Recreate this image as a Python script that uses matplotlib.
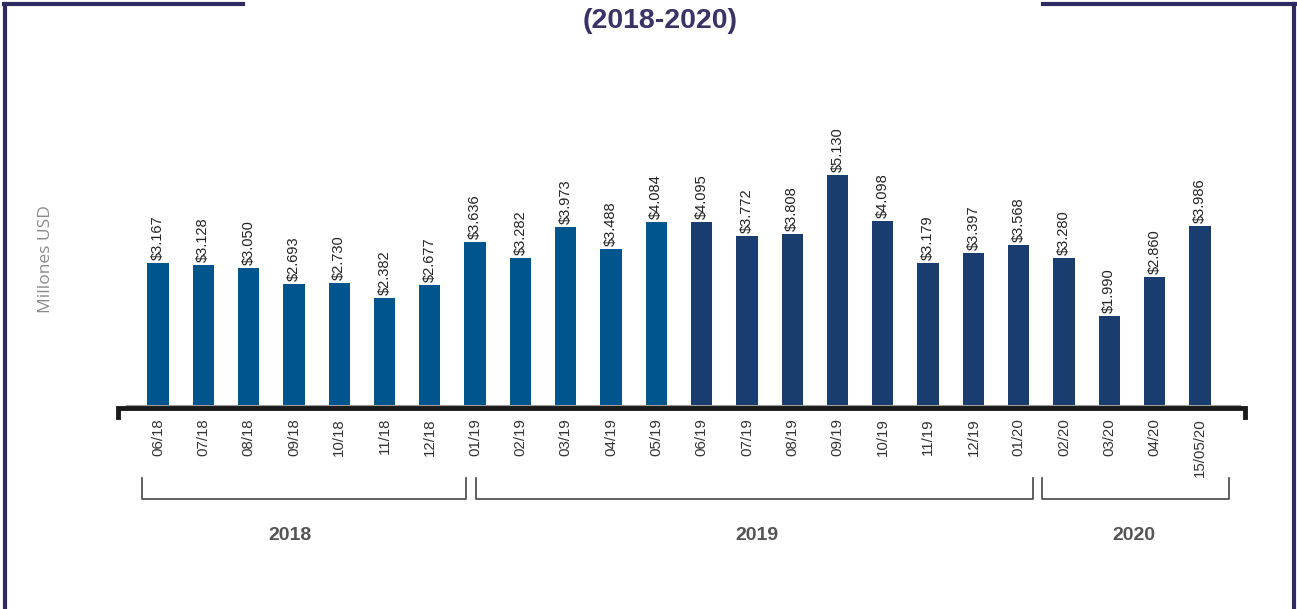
import matplotlib.pyplot as plt
from matplotlib.lines import Line2D
from matplotlib.font_manager import fontManager

# data
months = ['06/18', '07/18', '08/18', '09/18', '10/18', '11/18', '12/18',
          '01/19', '02/19', '03/19', '04/19', '05/19', '06/19', '07/19',
          '08/19', '09/19', '10/19', '11/19', '12/19', '01/20', '02/20',
          '03/20', '04/20', '15/05/20']
values = [3.167, 3.128, 3.050, 2.693, 2.730, 2.382, 2.677, 3.636, 3.282,
          3.973, 3.488, 4.084, 4.095, 3.772, 3.808, 5.130, 4.098, 3.179,
          3.397, 3.568, 3.280, 1.990, 2.860, 3.986]
n_light = 12  # first 12 bars in the lighter blue
years = ['2018', '2019', '2020']

light_blue = '#00558C'
dark_blue = '#1A3D6F'
frame_col = '#2F2A62'

names = {f.name for f in fontManager.ttflist}
narrow = 'Liberation Sans Narrow' if 'Liberation Sans Narrow' in names else 'Liberation Sans'
plt.rcParams['font.family'] = ['Liberation Sans', 'DejaVu Sans']

W, H = 1297, 609
fig = plt.figure(figsize=(W / 100, H / 100), dpi=100)

# axes placed so bar 0 sits at x=158px, baseline at y=405px
x0_px, x1_px = 118, 1245
base_px, top_px = 405, 60
step = 45.3
ppu = 44.8
ax = fig.add_axes([x0_px / W, (H - base_px) / H, (x1_px - x0_px) / W, (base_px - top_px) / H])
ax.set_xlim((x0_px - 158) / step, (x1_px - 158) / step)
ax.set_ylim(0, (base_px - top_px) / ppu)
ax.axis('off')


def px2x(p):
    return (p - 158) / step


colors = [light_blue if i < n_light else dark_blue for i in range(len(values))]
xs = list(range(len(values)))
ax.bar(xs, values, width=0.47, color=colors, zorder=2)

for x, v in zip(xs, values):
    ax.text(x, v + 3 / ppu, '$' + f'{v:.3f}', rotation=90, ha='center', va='bottom',
            fontsize=10.5, color='#222222')
    ax.text(x, -13 / ppu, months[x], rotation=90, ha='center', va='top',
            fontsize=10.8, color='#333333')

# baseline: grey line plus thick black line with hooks at both ends
xl, xr = ax.get_xlim()
ax.plot([xl + 0.2, xr - 0.1], [-1 / ppu, -1 / ppu], color='#9a9a9a', lw=1.5, clip_on=False, zorder=3)
ax.plot([xl, xl, xr, xr], [-12 / ppu, -3 / ppu, -3 / ppu, -12 / ppu],
        color='#1a1a1a', lw=3.5, clip_on=False, solid_joinstyle='miter', zorder=4)

# year brackets (left/right edges in pixels)
brackets = [(142, 466), (476, 1033), (1042, 1229)]
label_px = [290, 757, 1134]
for (lp, rp), cx, yr in zip(brackets, label_px, years):
    left, right = px2x(lp), px2x(rp)
    ax.plot([left, left, right, right], [-73 / ppu, -94 / ppu, -94 / ppu, -73 / ppu],
            color='#444444', lw=1.2, clip_on=False)
    ax.text(px2x(cx), -131 / ppu, yr, ha='center', va='center', fontsize=14,
            fontweight='bold', fontstretch='condensed', color='#555555',
            family=[narrow, 'DejaVu Sans'])

fig.text(46 / W, 1 - 259 / H, 'Millones USD', rotation=90, ha='center', va='center',
         fontsize=12.5, color='#8a8a8a', family=['Open Sans', 'DejaVu Sans'])

# frame
fy = 1 - 4 / H
lw = 3
fig.add_artist(Line2D([5 / W, 5 / W], [0, fy], transform=fig.transFigure, color=frame_col, lw=lw))
fig.add_artist(Line2D([1294 / W, 1294 / W], [0, fy], transform=fig.transFigure, color=frame_col, lw=lw))
fig.add_artist(Line2D([4 / W, 243 / W], [fy, fy], transform=fig.transFigure, color=frame_col, lw=lw))
fig.add_artist(Line2D([1043 / W, 1295 / W], [fy, fy], transform=fig.transFigure, color=frame_col, lw=lw))

fig.text(660 / W, 1 - 21 / H, '(2018-2020)', ha='center', va='center', fontsize=20.5,
         fontweight='bold', color='#3A3366')

fig.savefig('out.png', dpi=100)
